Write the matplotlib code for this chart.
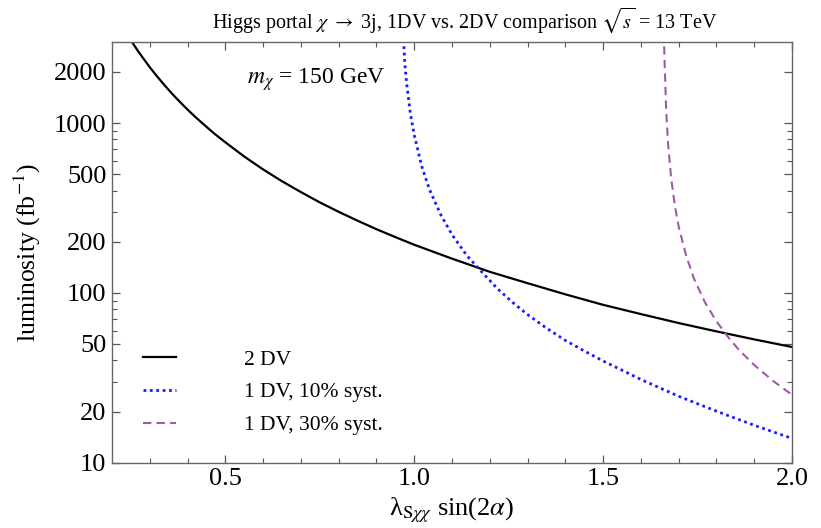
import matplotlib
matplotlib.use('Agg')
import matplotlib.pyplot as plt

plt.rcParams['font.family'] = ['Liberation Serif', 'DejaVu Serif']
plt.rcParams['mathtext.fontset'] = 'stix'

# 2 DV curve (black)
lam_2dv = [0.245, 0.25, 0.26, 0.27, 0.28, 0.3, 0.32, 0.34, 0.36, 0.38, 0.4, 0.42,
           0.45, 0.47, 0.5, 0.55, 0.6, 0.65, 0.7, 0.75, 0.8, 0.85, 0.9, 0.95, 1.0,
           1.1, 1.2, 1.3, 1.4, 1.5, 1.6, 1.7, 1.8, 1.9, 2.0]
lumi_2dv = [3200, 3070, 2840, 2630, 2450, 2130, 1875, 1660, 1480, 1330, 1200, 1088,
            950, 869, 770, 635, 533, 454, 392, 341, 300, 266, 237, 213, 192,
            159, 133, 114, 98, 85, 75, 66.4, 59.3, 53.2, 48]

# 1 DV, 10% syst (blue dotted)
lam_10 = [0.969, 0.972, 0.975, 0.98, 0.99, 1.0, 1.02, 1.04, 1.07, 1.1, 1.14, 1.18,
          1.22, 1.26, 1.3, 1.35, 1.4, 1.45, 1.5, 1.6, 1.7, 1.8, 1.9, 2.0]
lumi_10 = [4000, 3000, 2250, 1700, 1130, 850, 555, 408, 289, 220, 165, 132,
           106, 88, 74.5, 62, 52.5, 45.5, 39.7, 30.9, 24.6, 20.1, 16.6, 13.9]

# 1 DV, 30% syst (purple dashed)
lam_30 = [1.6605, 1.663, 1.667, 1.672, 1.68, 1.69, 1.70, 1.72, 1.74, 1.77, 1.8,
          1.83, 1.86, 1.9, 1.95, 2.0]
lumi_30 = [3400, 2200, 1170, 750, 475, 325, 245, 165, 122, 87.5, 68,
           55.2, 46, 37.6, 30.3, 25.1]

yticks = [10, 20, 50, 100, 200, 500, 1000, 2000]
yminor = [30, 40, 60, 70, 80, 90, 300, 400, 600, 700, 800, 900]
xticks = [0.5, 1.0, 1.5, 2.0]

fig = plt.figure(figsize=(8.21, 5.28), dpi=100)
ax = fig.add_axes([0.1364, 0.1237, 0.8283, 0.7968])

ax.plot(lam_2dv, lumi_2dv, color='black', lw=1.6, label='2 DV')
ax.plot(lam_10, lumi_10, color='#1a1aff', lw=2.0, linestyle=(0, (1, 1.3)),
        label='1 DV, 10% syst.')
ax.plot(lam_30, lumi_30, color='#a05aa8', lw=1.5, linestyle=(0, (4, 2.5)),
        label='1 DV, 30% syst.')

ax.set_yscale('log')
ax.set_xlim(0.2, 2.0)
ax.set_ylim(10, 3000)
ax.set_yticks(yticks)
ax.set_yticklabels([str(t) for t in yticks])
ax.set_yticks(yminor, minor=True)
ax.set_yticklabels([], minor=True)
ax.set_xticks(xticks)
ax.set_xticklabels(['0.5', '1.0', '1.5', '2.0'])
ax.set_xticks([0.3, 0.4, 0.6, 0.7, 0.8, 0.9, 1.1, 1.2, 1.3, 1.4, 1.6, 1.7, 1.8, 1.9],
              minor=True)

ax.tick_params(which='both', direction='in', top=True, right=True,
               labelsize=19, color='#555555')
ax.tick_params(which='major', length=6, width=0.9, pad=4)
ax.tick_params(which='minor', length=3.5, width=0.8)
for s in ax.spines.values():
    s.set_color('#666666')
    s.set_linewidth(1.0)

ax.set_ylabel('luminosity (fb$^{-1}$)', fontsize=18.5, labelpad=8)
ax.set_xlabel(r'λ$_{\mathrm{S}\chi\chi}$ sin(2$\alpha$)', fontsize=19, labelpad=4)

fig.text(0.566, 0.962,
         r'Higgs portal $\chi$ $\rightarrow$ 3j, 1DV vs. 2DV comparison $\sqrt{s}$ = 13 TeV',
         ha='center', va='center', fontsize=14.5)

ax.text(0.30, 0.91, r'$m_\chi$ = 150 GeV', transform=ax.transAxes,
        ha='center', va='center', fontsize=17)

ax.legend(loc='upper left', bbox_to_anchor=(0.045, 0.269), frameon=False,
          fontsize=15.5, handlelength=1.53, handletextpad=3.2, labelspacing=0.59,
          borderpad=0, borderaxespad=0)

fig.savefig('out.png', dpi=100)
